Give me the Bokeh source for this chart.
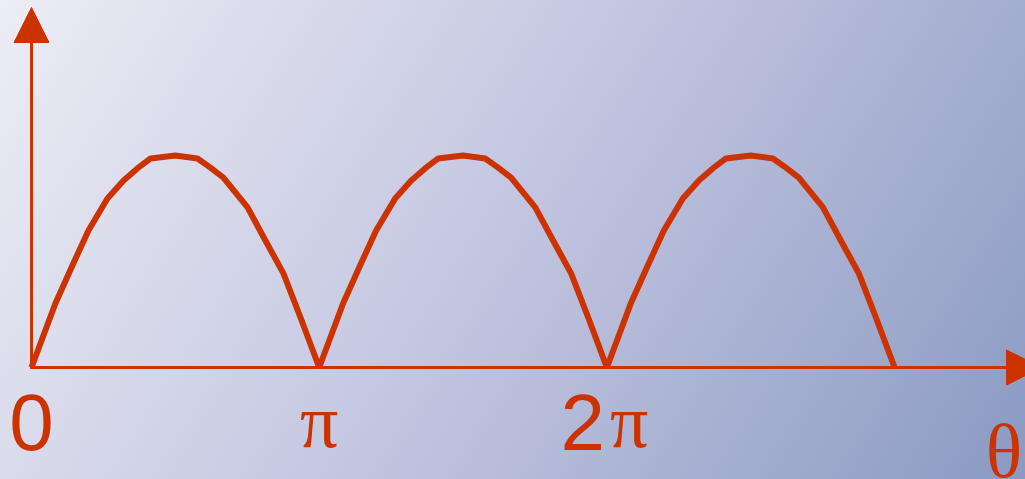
from bokeh.plotting import figure
from bokeh.models import Range1d, Arrow, NormalHead, ColumnDataSource
from bokeh.core.properties import value
from bokeh.embed import file_html
from bokeh.resources import INLINE

# One arch of the rectified wave: phase (in units of pi) and height (peak = 1)
arch_phase = [0.0, 0.083, 0.139, 0.198, 0.264, 0.320, 0.368, 0.414, 0.50,
              0.577, 0.622, 0.667, 0.751, 0.813, 0.876, 0.935, 1.0]
arch_height = [0.0, 0.302, 0.472, 0.646, 0.797, 0.882, 0.939, 0.986, 1.0,
               0.986, 0.943, 0.896, 0.755, 0.599, 0.443, 0.236, 0.0]
arch_starts = [0, 1, 2]          # each arch begins at k*pi

tick_pos = [0, 1, 2]             # multiples of pi
tick_num = ["0", "", "2"]        # numeric part of each tick label
tick_sym = ["", "π", "π"]        # symbolic part of each tick label
axis_label = "θ"
axis_label_pos = 3.38

RED = "#cc3300"
W, H = 1025, 479
X0_PX, Y0_PX = 31, 367           # screen position of the origin
PX_PER_PI, PX_PER_UNIT = 287.7, 212.0

def y_of(px):
    return (Y0_PX - px) / PX_PER_UNIT

p = figure(width=W, height=H, output_backend="svg", toolbar_location=None,
           x_range=Range1d(-X0_PX / PX_PER_PI, (W - X0_PX) / PX_PER_PI),
           y_range=Range1d(y_of(H), y_of(0)),
           min_border=0, outline_line_color=None,
           background_fill_alpha=0, border_fill_alpha=0)
p.axis.visible = False
p.grid.visible = False
p.styles = {"background": "linear-gradient(122deg, #ededf5 0%, #c6c9e2 45%, #aab2d3 72%, #8a9ac3 100%)"}

# coordinate axes drawn as arrows
p.add_layout(Arrow(x_start=0, y_start=0, x_end=0, y_end=y_of(7),
                   line_color=RED, line_width=3,
                   end=NormalHead(size=35, fill_color=RED, line_color=RED, line_width=1)))
p.add_layout(Arrow(x_start=-0.005, y_start=0, x_end=(1041 - X0_PX) / PX_PER_PI, y_end=0,
                   line_color=RED, line_width=3,
                   end=NormalHead(size=35, fill_color=RED, line_color=RED, line_width=1)))

# the |sin| arches
xs = [[s + t for t in arch_phase] for s in arch_starts]
ys = [list(arch_height) for _ in arch_starts]
p.multi_line(xs, ys, line_color=RED, line_width=6, line_join="round", line_cap="butt")

# tick labels: sans-serif numerals with serif pi
num_src = ColumnDataSource(dict(x=tick_pos, y=[y_of(422)] * 3, t=tick_num,
                                align=["center", "center", "right"], dx=[0, 0, -2]))
p.text("x", "y", text="t", source=num_src, text_font=value("Liberation Sans"),
       text_font_size="80px", text_color=RED,
       text_align="align", text_baseline="alphabetic", x_offset="dx")
sym_src = ColumnDataSource(dict(x=tick_pos, y=[y_of(420)] * 3, t=tick_sym,
                                align=["center", "center", "left"], dx=[0, 0, 3]))
p.text("x", "y", text="t", source=sym_src, text_font=value("Liberation Serif"),
       text_font_size="76px", text_color=RED,
       text_align="align", text_baseline="alphabetic", x_offset="dx")
p.text([axis_label_pos], [y_of(450)], text=[axis_label], text_font=value("Liberation Serif"),
       text_font_size="76px", text_color=RED, text_align="center", text_baseline="alphabetic")

open("out.html", "w").write(file_html(p, INLINE))
